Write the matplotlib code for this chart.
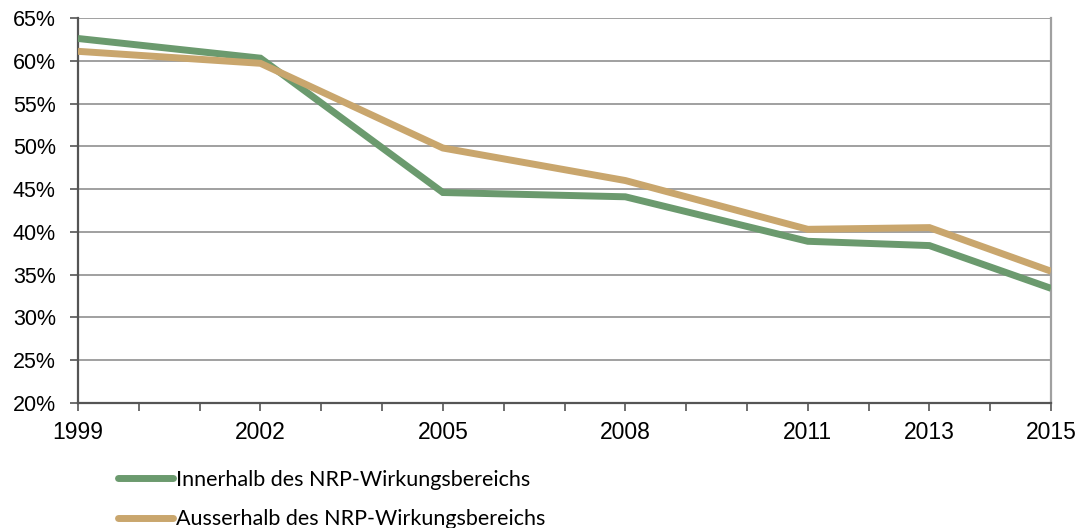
import matplotlib.pyplot as plt
from matplotlib.ticker import FixedLocator, PercentFormatter

plt.rcParams['font.family'] = 'Liberation Sans'

# Anteil in Prozent, nach Erhebungsjahr
years = [1999, 2002, 2005, 2008, 2011, 2013, 2015]
innerhalb = [62.6, 60.3, 44.6, 44.1, 38.9, 38.4, 33.4]
ausserhalb = [61.1, 59.7, 49.8, 46.0, 40.3, 40.5, 35.4]

series_labels = ["Innerhalb des NRP-Wirkungsbereichs",
                 "Ausserhalb des NRP-Wirkungsbereichs"]
series_colors = ["#6b9a6e", "#c9a66d"]

fig = plt.figure(figsize=(10.83, 5.28), dpi=100)
ax = fig.add_axes([0.072, 0.2367, 0.8985, 0.7293])

handles = []
for vals, label, color in zip([innerhalb, ausserhalb], series_labels, series_colors):
    h, = ax.plot(years, vals, color=color, linewidth=5.0, solid_joinstyle='miter',
                 solid_capstyle='butt', label=label, zorder=3)
    handles.append(h)

ax.set_xlim(years[0], years[-1])
ax.set_ylim(20, 65)
ax.set_yticks(range(20, 66, 5))
ax.yaxis.set_major_formatter(PercentFormatter(decimals=0))
ax.set_xticks(years)
ax.set_xticklabels([str(y) for y in years])
ax.xaxis.set_minor_locator(FixedLocator(range(years[0], years[-1] + 1)))

ax.grid(axis='y', color='#a0a0a0', linewidth=1.4, zorder=1)
ax.tick_params(axis='both', which='both', direction='out', color='#555555', width=1.2)
ax.tick_params(axis='y', length=6, pad=10, labelsize=15.5)
ax.tick_params(axis='x', which='both', length=6, pad=7, labelsize=16.5)

for side in ['left', 'bottom']:
    ax.spines[side].set_color('#555555')
    ax.spines[side].set_linewidth(1.6)
ax.spines['right'].set_color('#a0a0a0')
ax.spines['right'].set_linewidth(1.6)
ax.spines['top'].set_visible(False)

leg = fig.legend(handles=handles, loc='upper left', bbox_to_anchor=(0.101, 0.127),
                 frameon=False, handlelength=2.55, handletextpad=0.15,
                 labelspacing=0.92, borderaxespad=0,
                 prop={'family': 'Lato', 'size': 15.5})
for line in leg.get_lines():
    line.set_linewidth(5.0)
    line.set_solid_capstyle('round')

fig.savefig("out.png", dpi=100)
